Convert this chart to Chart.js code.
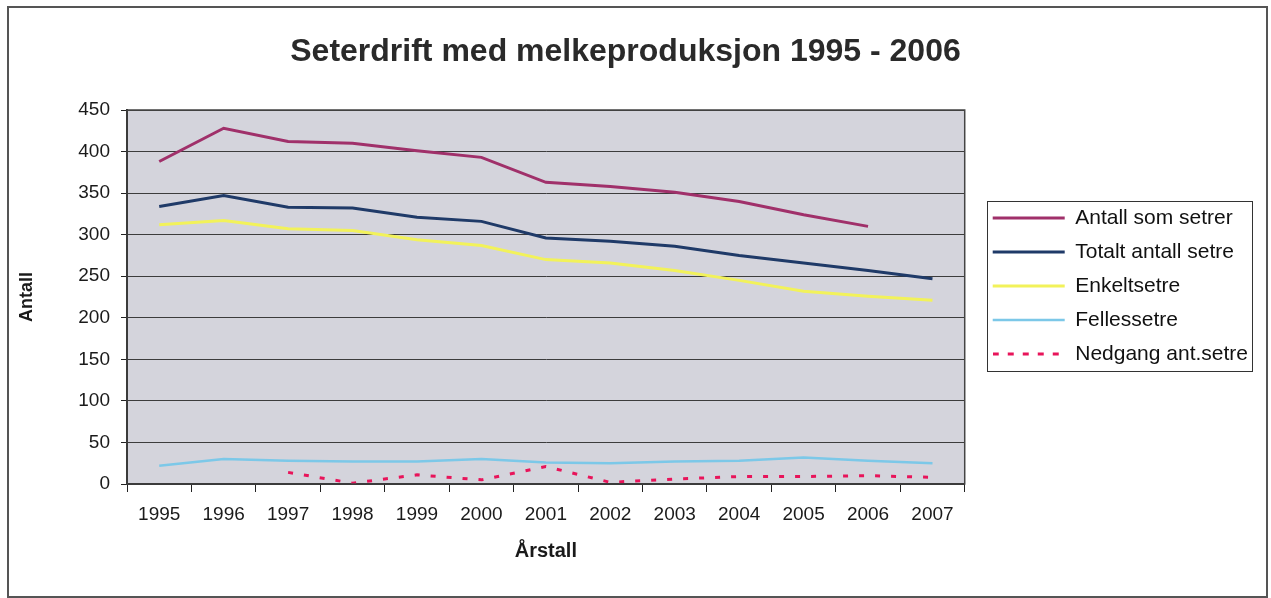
<!DOCTYPE html>
<html lang="no">
<head>
    <meta charset="UTF-8">
    <title>Seterdrift med melkeproduksjon 1995 - 2006</title>
    <script src="https://cdn.jsdelivr.net/npm/chart.js"></script>
    <style>
        body {
            margin: 0;
            background: #fff;
        }
    </style>
</head>
<body>
    <canvas id="seterChart" width="1271" height="598"></canvas>
    <script>
        // Data lest av figuren
        const years = ['1995', '1996', '1997', '1998', '1999', '2000', '2001', '2002', '2003', '2004', '2005', '2006', '2007'];
        const antallSomSetrer = [388, 428, 412, 410, 401, 393, 363, 358, 351, 340, 324, 310, null];
        const totaltAntallSetre = [334, 347, 333, 332, 321, 316, 296, 292, 286, 275, 266, 257, 247];
        const enkeltsetre = [312, 317, 307, 305, 294, 287, 270, 266, 257, 245, 232, 226, 221];
        const fellessetre = [22, 30, 28, 27, 27, 30, 26, 25, 27, 28, 32, 28, 25];
        const nedgangAntSetre = [null, null, 14, 1, 11, 5, 21, 2, 6, 9, 9, 10, 8];

        Chart.defaults.font.family = '"Liberation Sans", Arial, sans-serif';
        Chart.defaults.color = '#1a1a1a';

        // stiplet linje som bilde til legenden (pointStyle 'line' tegnes alltid heltrukket)
        function dashSample(color, dash, width) {
            const c = document.createElement('canvas');
            c.width = 72;
            c.height = 6;
            const g = c.getContext('2d');
            g.strokeStyle = color;
            g.lineWidth = width;
            g.setLineDash(dash);
            g.beginPath();
            g.moveTo(0, 3);
            g.lineTo(72, 3);
            g.stroke();
            return c;
        }

        // bakgrunn i plottområdet + ramme
        const plotArea = {
            id: 'plotArea',
            beforeDraw(chart) {
                const {ctx, chartArea: a} = chart;
                ctx.save();
                ctx.fillStyle = '#d4d4dc';
                ctx.fillRect(a.left, a.top, a.right - a.left, a.bottom - a.top);
                ctx.restore();
            },
            afterDatasetsDraw(chart) {
                const {ctx, chartArea: a} = chart;
                ctx.save();
                ctx.strokeStyle = '#444';
                ctx.lineWidth = 1.5;
                ctx.strokeRect(a.left, a.top, a.right - a.left, a.bottom - a.top);
                ctx.restore();
            }
        };

        // flytter legenden litt, og tegner ramme rundt den og hele diagrammet
        const frames = {
            id: 'frames',
            afterLayout(chart) {
                const lg = chart.legend;
                lg.left += 15; lg.right += 15;
                lg.top -= 12; lg.bottom -= 12;
            },
            afterDraw(chart) {
                const ctx = chart.ctx;
                const boxes = chart.legend.legendHitBoxes;
                let l = Infinity, t = Infinity, r = -Infinity, b = -Infinity;
                boxes.forEach(h => {
                    l = Math.min(l, h.left);
                    t = Math.min(t, h.top);
                    r = Math.max(r, h.left + h.width);
                    b = Math.max(b, h.top + h.height);
                });
                ctx.save();
                ctx.strokeStyle = '#333';
                ctx.lineWidth = 1;
                ctx.strokeRect(Math.round(l - 6) + 0.5, Math.round(t - 7) + 0.5, Math.round(r - l + 10), Math.round(b - t + 13));
                ctx.strokeStyle = '#555';
                ctx.lineWidth = 2;
                ctx.strokeRect(8, 7, 1259, 590);
                ctx.restore();
            }
        };

        const ctx = document.getElementById('seterChart').getContext('2d');
        new Chart(ctx, {
            type: 'line',
            data: {
                labels: years,
                datasets: [
                    {
                        label: 'Antall som setrer',
                        data: antallSomSetrer,
                        borderColor: '#a0306a',
                        borderWidth: 3
                    },
                    {
                        label: 'Totalt antall setre',
                        data: totaltAntallSetre,
                        borderColor: '#1f3a68',
                        borderWidth: 3
                    },
                    {
                        label: 'Enkeltsetre',
                        data: enkeltsetre,
                        borderColor: '#f2f25a',
                        borderWidth: 3
                    },
                    {
                        label: 'Fellessetre',
                        data: fellessetre,
                        borderColor: '#7cc8e8',
                        borderWidth: 2.5
                    },
                    {
                        label: 'Nedgang ant.setre',
                        data: nedgangAntSetre,
                        borderColor: '#e8145a',
                        borderWidth: 3,
                        borderDash: [5, 11]
                    }
                ]
            },
            options: {
                responsive: false,
                animation: false,
                devicePixelRatio: 1,
                elements: {
                    point: { radius: 0 },
                    line: { tension: 0, fill: false }
                },
                layout: {
                    padding: { left: 8, right: 28, top: 6, bottom: 8 }
                },
                plugins: {
                    title: {
                        display: true,
                        text: 'Seterdrift med melkeproduksjon 1995 - 2006',
                        color: '#2a2a2a',
                        font: { size: 32, weight: 'bold' },
                        padding: { top: 27, bottom: 38.6 }
                    },
                    legend: {
                        position: 'right',
                        labels: {
                            usePointStyle: true,
                            pointStyle: 'line',
                            pointStyleWidth: 72,
                            padding: 13,
                            color: '#111',
                            font: { size: 21 },
                            generateLabels(chart) {
                                const items = Chart.defaults.plugins.legend.labels.generateLabels(chart);
                                items.forEach(it => {
                                    const ds = chart.data.datasets[it.datasetIndex];
                                    if (ds.borderDash) {
                                        it.pointStyle = dashSample(ds.borderColor, [6, 9], 3);
                                    }
                                });
                                return items;
                            }
                        }
                    },
                    tooltip: { enabled: false }
                },
                scales: {
                    x: {
                        offset: true,
                        grid: {
                            offset: true,
                            drawOnChartArea: false,
                            tickLength: 8,
                            color: '#222'
                        },
                        border: { color: '#222', width: 2 },
                        ticks: {
                            padding: 11,
                            font: { size: 19 },
                            maxRotation: 0
                        },
                        title: {
                            display: true,
                            text: 'Årstall',
                            font: { size: 20, weight: 'bold' },
                            padding: { top: 0, bottom: 27 }
                        },
                        afterFit(scale) { scale.height = 106; }
                    },
                    y: {
                        min: 0,
                        max: 450,
                        ticks: {
                            stepSize: 50,
                            padding: 11,
                            font: { size: 19 }
                        },
                        grid: {
                            color: '#3c3c3c',
                            tickColor: '#222',
                            tickLength: 6
                        },
                        border: { color: '#222', width: 2 },
                        title: {
                            display: true,
                            text: 'Antall',
                            font: { size: 18, weight: 'bold' },
                            padding: { top: 8, bottom: 0 }
                        },
                        afterFit(scale) { scale.width = 119; }
                    }
                }
            },
            plugins: [plotArea, frames]
        });
    </script>
</body>
</html>
